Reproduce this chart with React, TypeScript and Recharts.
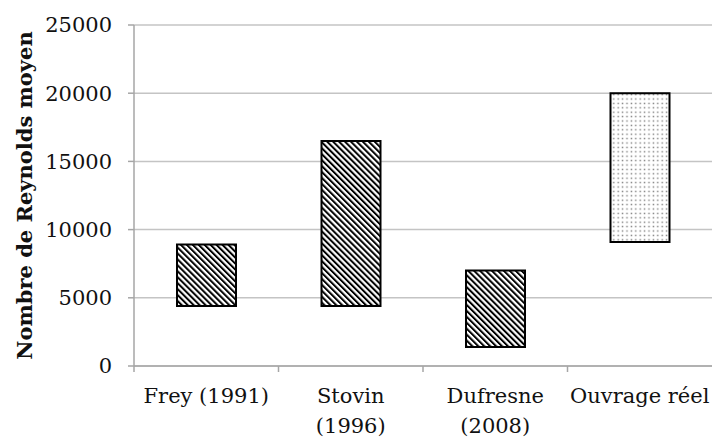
import React from "react";
import { BarChart, Bar, XAxis, YAxis, CartesianGrid, Cell } from "recharts";

const categories = ["Frey (1991)", "Stovin (1996)", "Dufresne (2008)", "Ouvrage réel"];
const tickLines = [["Frey (1991)"], ["Stovin", "(1996)"], ["Dufresne", "(2008)"], ["Ouvrage réel"]];
const lowValues = [4400, 4400, 1400, 9100];
const highValues = [8900, 16500, 7000, 20000];
const patterns = ["hatch", "hatch", "hatch", "dots"];
const yTicks = [0, 5000, 10000, 15000, 20000, 25000];

const data = categories.map((name, i) => ({
    name,
    range: [lowValues[i], highValues[i]],
}));

const FONT = "'DejaVu Serif', serif";
const AXIS = "#a6a6a6";
const W = 712;
const H = 439;
const LEFT = 134;
const BAND = (W - LEFT) / categories.length;

const CategoryTick = (props: any) => {
    const { x, y, payload, index } = props;
    const lines = tickLines[payload.index ?? index] || [payload.value];
    const left = x - BAND / 2;
    return (
        <g>
            <line x1={left} y1={y - 8} x2={left} y2={y - 2} stroke={AXIS} strokeWidth={1.5} />
            {lines.map((t: string, k: number) => (
                <text
                    key={k}
                    x={x}
                    y={y + 29 + k * 30}
                    textAnchor="middle"
                    fontFamily={FONT}
                    fontSize={21}
                    fill="#111"
                >
                    {t}
                </text>
            ))}
        </g>
    );
};

export default function App() {
    return (
        <div style={{ position: "absolute", left: 0, top: 0, background: "#fff" }}>
            <BarChart
                width={W}
                height={H}
                data={data}
                margin={{ top: 25, right: 0, bottom: 0, left: 0 }}
                barSize={59}
            >
                <defs>
                    <pattern id="hatch" width="4.2" height="4.2" patternUnits="userSpaceOnUse" patternTransform="rotate(-45)">
                        <rect width="4.2" height="4.2" fill="#fff" />
                        <line x1="1" y1="0" x2="1" y2="4.2" stroke="#000" strokeWidth="2" />
                    </pattern>
                    <pattern id="dots" width="4.4" height="4.4" patternUnits="userSpaceOnUse">
                        <rect width="4.4" height="4.4" fill="#fff" />
                        <rect x="1.5" y="1.5" width="1.4" height="1.4" fill="#7a7a7a" />
                    </pattern>
                </defs>
                <CartesianGrid vertical={false} stroke="#c4c4c4" strokeWidth={1.5} />
                <XAxis
                    dataKey="name"
                    height={73}
                    interval={0}
                    stroke={AXIS}
                    strokeWidth={1.5}
                    tickLine={false}
                    tick={<CategoryTick />}
                />
                <YAxis
                    width={LEFT}
                    domain={[0, 25000]}
                    ticks={yTicks}
                    interval={0}
                    stroke={AXIS}
                    strokeWidth={1.5}
                    tickSize={6}
                    tickMargin={16}
                    tick={{ fontFamily: FONT, fontSize: 21, fill: "#111" }}
                    label={{
                        value: "Nombre de Reynolds moyen",
                        angle: -90,
                        position: "insideLeft",
                        dx: 20,
                        dy: 0,
                        style: { fontFamily: FONT, fontSize: 21, fontWeight: "bold", fill: "#111", textAnchor: "middle" },
                    }}
                />
                <Bar dataKey="range" stroke="#000" strokeWidth={2} isAnimationActive={false}>
                    {data.map((d, i) => (
                        <Cell key={d.name} fill={`url(#${patterns[i]})`} />
                    ))}
                </Bar>
            </BarChart>
        </div>
    );
}
